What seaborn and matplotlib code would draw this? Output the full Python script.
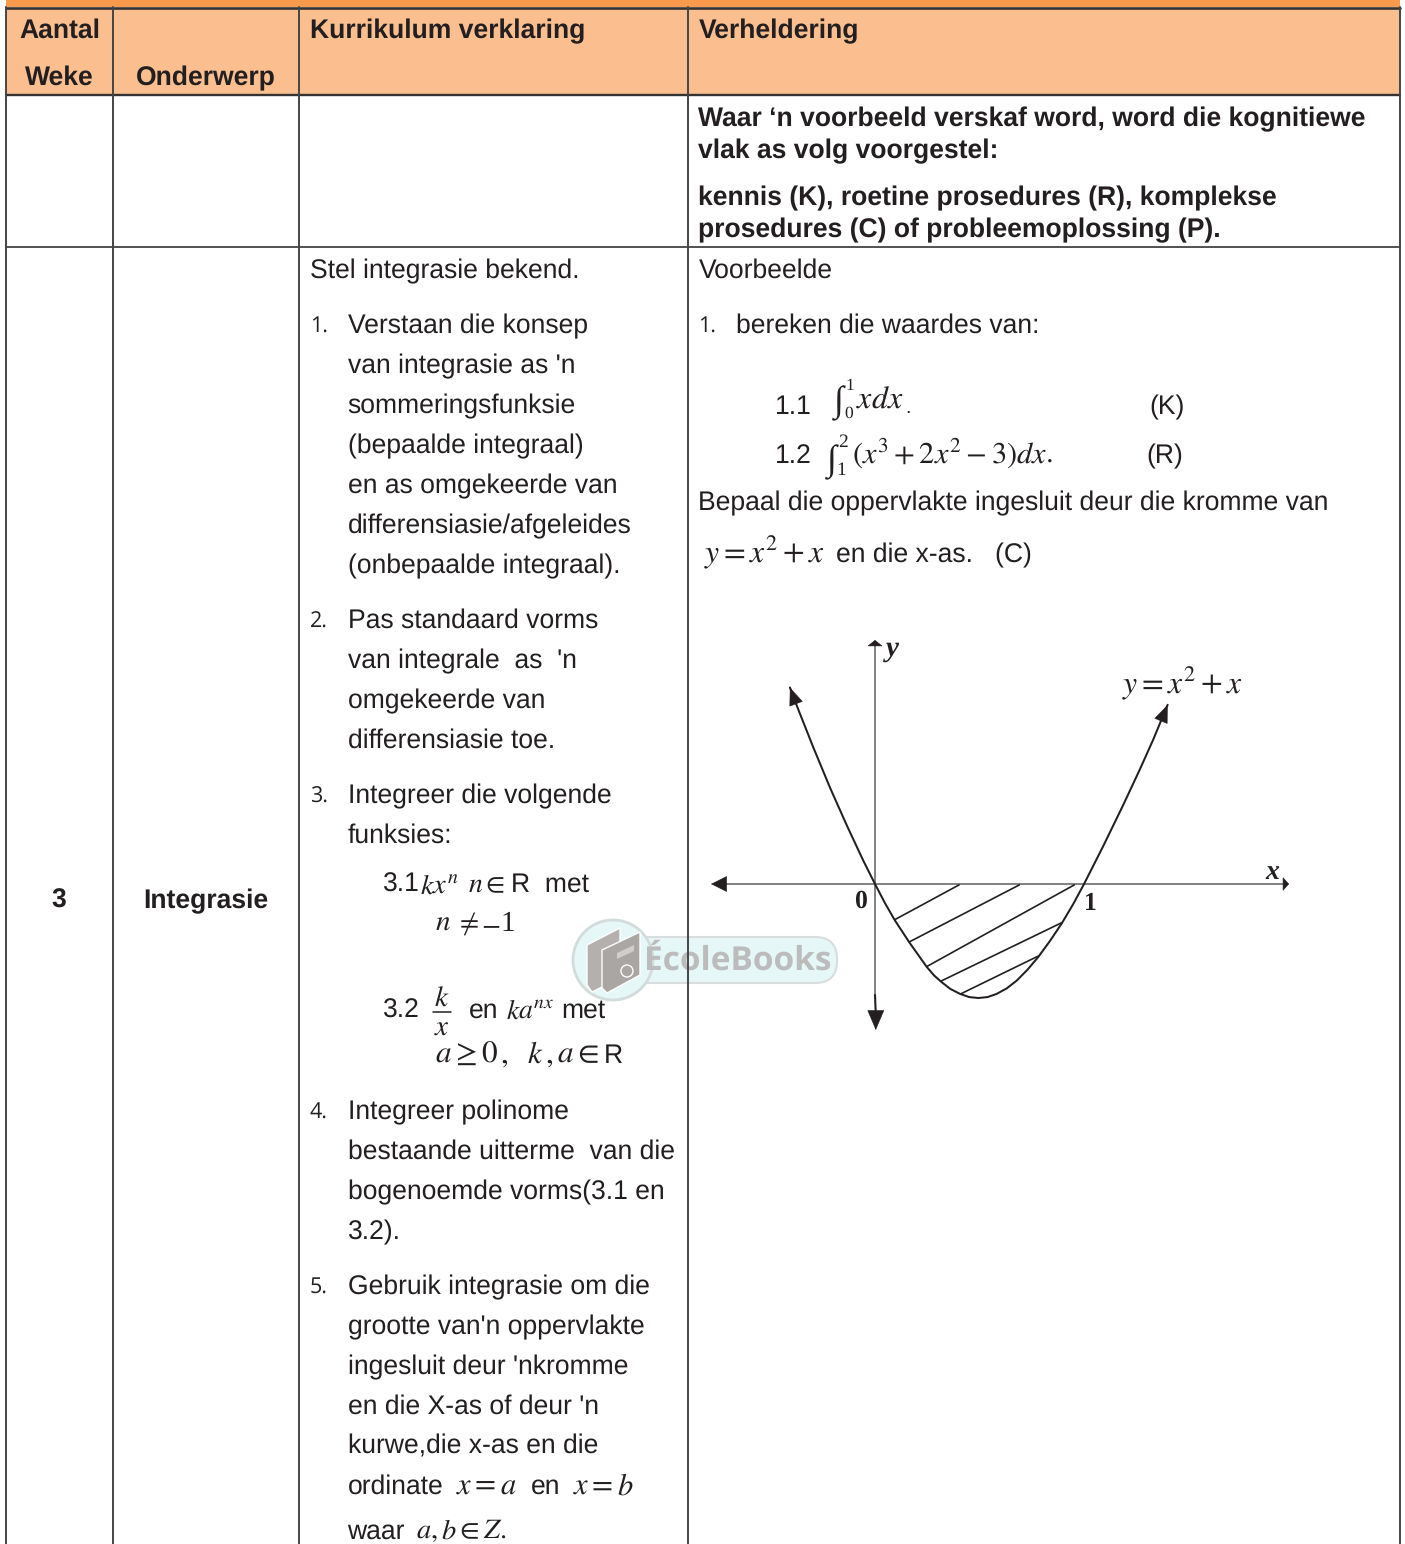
import numpy as np
import pandas as pd
import matplotlib
matplotlib.use("Agg")
import matplotlib.pyplot as plt
from matplotlib.patches import Rectangle, FancyBboxPatch, Circle, Polygon
import seaborn as sns

sns.set_theme(style="white")
plt.rcParams["font.family"] = ["Liberation Sans", "DejaVu Sans"]
plt.rcParams["mathtext.fontset"] = "stix"
plt.rcParams["text.hinting"] = "no_hinting"
plt.rcParams["text.hinting_factor"] = 8

INK = "#231f20"
RULE = "#454545"

# --- content -------------------------------------------------------------
col_edges = [6, 113, 299, 688, 1400]
row_edges = [95, 247]

header_left = ["Aantal", "Weke", "Onderwerp"]
header_right = ["Kurrikulum verklaring", "Verheldering"]
note_lines = ["Waar ‘n voorbeeld verskaf word, word die kognitiewe",
              "vlak as volg voorgestel:",
              "kennis (K), roetine prosedures (R), komplekse",
              "prosedures (C) of probleemoplossing (P)."]
week_label = "3"
topic_label = "Integrasie"
intro_label = "Stel integrasie bekend."
item_numbers = ["1.", "2.", "3.", "4.", "5."]
item_1 = ["Verstaan die konsep", "van integrasie as 'n", "sommeringsfunksie",
          "(bepaalde integraal)", "en as omgekeerde van",
          "differensiasie/afgeleides", "(onbepaalde integraal)."]
item_2 = ["Pas standaard vorms", "van integrale  as  'n", "omgekeerde van",
          "differensiasie toe."]
item_3 = ["Integreer die volgende", "funksies:"]
item_4 = ["Integreer polinome", "bestaande uitterme  van die",
          "bogenoemde vorms(3.1 en", "3.2)."]
item_5 = ["Gebruik integrasie om die", "grootte van'n oppervlakte",
          "ingesluit deur 'nkromme", "en die X-as of deur 'n",
          "kurwe,die x-as en die"]

# curve of the sketch
curve_x = [-0.409, -0.376, -0.297, -0.216, -0.136, -0.056, 0.0, 0.048, 0.096, 0.165, 0.249,
           0.283, 0.317, 0.362, 0.409, 0.453, 0.497, 0.541, 0.585, 0.633, 0.681, 0.733,
           0.785, 0.841, 0.897, 0.953, 1.005, 1.096, 1.192, 1.274, 1.337, 1.407]
curve_y = [0.431, 0.391, 0.300, 0.211, 0.129, 0.051, 0.0, -0.042, -0.080, -0.128, -0.182,
           -0.200, -0.214, -0.230, -0.241, -0.248, -0.250, -0.248, -0.241, -0.229, -0.212, -0.188,
           -0.160, -0.125, -0.087, -0.044, 0.0, 0.082, 0.172, 0.252, 0.316, 0.393]
hatch_x0 = [0.096, 0.165, 0.249, 0.317, 0.412]
hatch_y0 = [-0.078, -0.127, -0.181, -0.213, -0.241]
hatch_x1 = [0.404, 0.694, 0.958, 0.897, 0.785]
hatch_y1 = [-0.002, -0.002, -0.002, -0.085, -0.158]

# --- figure --------------------------------------------------------------
fig = plt.figure(figsize=(14.05, 15.44), dpi=100, facecolor="white")
ax = fig.add_axes([0, 0, 1, 1])
ax.set_xlim(0, 1405)
ax.set_ylim(1544, 0)
ax.axis("off")

BODY = 19.12


def t(x, y, s, size=BODY, weight="normal", ha="left", **kw):
    ax.text(x, y, s, fontsize=size, fontweight=weight, ha=ha, va="baseline",
            color=kw.pop("color", INK), zorder=6, **kw)


def lines(x, ys, rows, **kw):
    for y, s in zip(ys, rows):
        t(x, y, s, **kw)


# header band and fill
ax.add_patch(Rectangle((6, 0), 1394, 7, fc="#f79a4c", ec="none", zorder=1))
ax.add_patch(Rectangle((6, 8), 1394, 87, fc="#fbbf8f", ec="none", zorder=1))

# watermark
ax.add_patch(FancyBboxPatch((612, 937), 225, 46, boxstyle="round,pad=0,rounding_size=22",
                            fc="#e6f7f8", ec="#d8dddd", lw=1.5, zorder=2))
ax.add_patch(Circle((613, 960), 40, fc="#e6f7f8", ec="#d3dbdb", lw=2, zorder=2))
ax.add_patch(Polygon([[587, 945], [620, 928], [620, 978], [592, 992], [587, 985]],
                     fc="#b3b0ae", ec="white", lw=1, zorder=3))
ax.add_patch(Polygon([[602, 950], [640, 932], [640, 975], [607, 993], [602, 988]],
                     fc="#a9a6a4", ec="white", lw=1, zorder=3))
ax.add_patch(Circle((627, 971), 6, fc="#a9a6a4", ec="white", lw=1, zorder=4))
ax.add_patch(Polygon([[617, 953], [634, 945], [634, 951], [617, 959]],
                     fc="#d0cecd", ec="none", zorder=4))
ax.text(644, 970, "ÉcoleBooks", fontsize=24, fontweight="bold", color="#bcbcbc",
        family="Open Sans", zorder=3)

# rules
ax.plot([6, 1400], [7.5, 7.5], color="#333333", lw=1.9, zorder=5)
for y, w in zip(row_edges, [1.7, 1.2]):
    ax.plot([6, 1400], [y, y], color="#333333", lw=w, zorder=5)
for x in col_edges:
    ax.plot([x, x], [7, 1544], color=RULE, lw=1.4, zorder=5)

# header text
t(59.5, 38, header_left[0], weight="bold", ha="center")
t(59, 85, header_left[1], weight="bold", ha="center")
t(206, 85, header_left[2], weight="bold", ha="center")
t(310, 38, header_right[0], weight="bold")
t(698.5, 38, header_right[1], weight="bold")
lines(698.5, [126, 158, 205, 237], note_lines, weight="bold")

t(59, 908, week_label, weight="bold", ha="center")
t(206, 908, topic_label, weight="bold", ha="center")

# curriculum column
t(310, 278, intro_label)
num_font = dict(size=15.5, family="Open Sans")
for y, n in zip([333, 628, 803, 1119, 1294], item_numbers):
    t(310, y, n, **num_font)
lines(347.5, [333, 373, 413, 453, 493, 533, 573], item_1)
lines(347.5, [628, 668, 708, 748], item_2)
lines(347.5, [803, 843], item_3)
lines(347.5, [1119, 1159, 1199, 1239], item_4)
lines(347.5, [1294, 1334, 1374, 1414, 1454], item_5)

t(383, 892, "3.1")
t(420, 894, r"$kx^{n}$", size=20.5)
t(468, 892, r"$n\in$", size=20)
t(511, 892, "R  met")
t(435, 931, r"$n$", size=21)
t(455, 931, r"$\neq$", size=20)
t(481, 931, r"$-$", size=20)
t(500, 931, "1", size=21, family="Liberation Serif")
t(383, 1018, "3.2")
t(441.5, 1007, r"$k$", size=21, ha="center")
ax.plot([433, 451], [1012, 1012], color=INK, lw=1.1, zorder=6)
t(441.5, 1036, r"$x$", size=21, ha="center")
t(469, 1018, "en")
t(506, 1019, r"$ka^{nx}$", size=20)
t(561, 1018, "met")
t(435, 1063, r"$a\geq 0\,,\ \ k\,,a\in$", size=22.5)
t(604, 1063, "R")
t(347.5, 1494, "ordinate")
t(456, 1495, r"$x=a$", size=22)
t(531, 1494, "en")
t(573, 1495, r"$x=b$", size=22)
t(347.5, 1539, "waar")
t(416, 1539, r"$a,b\in Z.$", size=20.5)

# clarification column
serif = dict(family="Liberation Serif")
t(698.5, 278, "Voorbeelde")
t(698.5, 333, "1.", **num_font)
t(736.5, 333, "bereken die waardes van:")
t(775, 414, "1.1")
t(834, 411, "∫", size=26, **serif)
t(845, 390, "1", size=12.5, **serif)
t(844, 418, "0", size=12.5, **serif)
t(856, 409, r"$xdx$", size=23)
t(905, 413, ".", size=14)
t(1149, 414, "(K)")
t(775, 463, "1.2")
t(827, 470, "∫", size=26, **serif)
t(838.5, 447, "2", size=14, **serif)
t(836, 475, "1", size=14, **serif)
t(852, 464, r"$(x^{3}+2x^{2}-3)dx.$", size=21.9)
t(1146, 463, "(R)")
t(698.5, 510, "Bepaal die oppervlakte ingesluit deur die kromme van")
t(704, 562, r"$y=x^{2}+x$", size=22.8)
t(836, 562, "en die x-as.   (C)")

# sketch: own axes placed over the page
px0, px1, py0, py1 = 700, 1300, 630, 1040
ox, oy, ux, uy = 875, 884, 208, 456
g = fig.add_axes([px0 / 1405, 1 - py1 / 1544, (px1 - px0) / 1405, (py1 - py0) / 1544])
g.set_xlim((px0 - ox) / ux, (px1 - ox) / ux)
g.set_ylim((oy - py1) / uy, (oy - py0) / uy)
g.axis("off")
g.patch.set_alpha(0)
g.set_zorder(ax.get_zorder() + 1)

curve = pd.DataFrame({"x": curve_x, "y": curve_y})
sns.lineplot(data=curve, x="x", y="y", sort=False, estimator=None, ax=g,
             color=INK, lw=1.45, legend=False)
for a, b, c, d in zip(hatch_x0, hatch_y0, hatch_x1, hatch_y1):
    g.plot([a, c], [b, d], color=INK, lw=1.2)


def arrow(p_from, p_to, hl=0.75, hw=0.3, lw=0.4, scale=16):
    ax.annotate("", xy=p_to, xytext=p_from, zorder=7,
                arrowprops=dict(arrowstyle=f"-|>,head_length={hl},head_width={hw}",
                                mutation_scale=scale, color=INK, lw=lw,
                                shrinkA=0, shrinkB=0))


# axes of the sketch
ax.plot([715, 1285], [884, 884], color="#777777", lw=1.3, zorder=5.5)
ax.plot([875, 875], [644, 996], color="#777777", lw=1.3, zorder=5.5)
ax.plot([875, 875.8], [995, 1015], color=INK, lw=1.5, zorder=6)
arrow((727, 884), (711, 884), hl=0.6, hw=0.3, scale=18)
arrow((1283, 884), (1289, 884), hl=0.4, hw=0.45, scale=10)
arrow((875, 646), (875, 640), hl=0.4, hw=0.5, scale=10)
arrow((875.8, 1010), (875.8, 1030), hl=0.75, hw=0.32, scale=18)
# arrow heads at the ends of the curve
to_px = lambda i: (ox + ux * curve_x[i], oy - uy * curve_y[i])
arrow(to_px(1), to_px(0))
arrow(to_px(-2), to_px(-1))

t(886, 656, "y", size=21, weight="bold", style="italic", **serif)
t(1265, 879, "x", size=20, weight="bold", style="italic", **serif)
t(854, 908, "0", size=18.5, weight="bold", **serif)
t(1084, 910, "1", size=18.5, weight="bold", **serif)
t(1122, 693, r"$y=x^{2}+x$", size=22.8)

fig.savefig("out.png", dpi=100, facecolor="white")
